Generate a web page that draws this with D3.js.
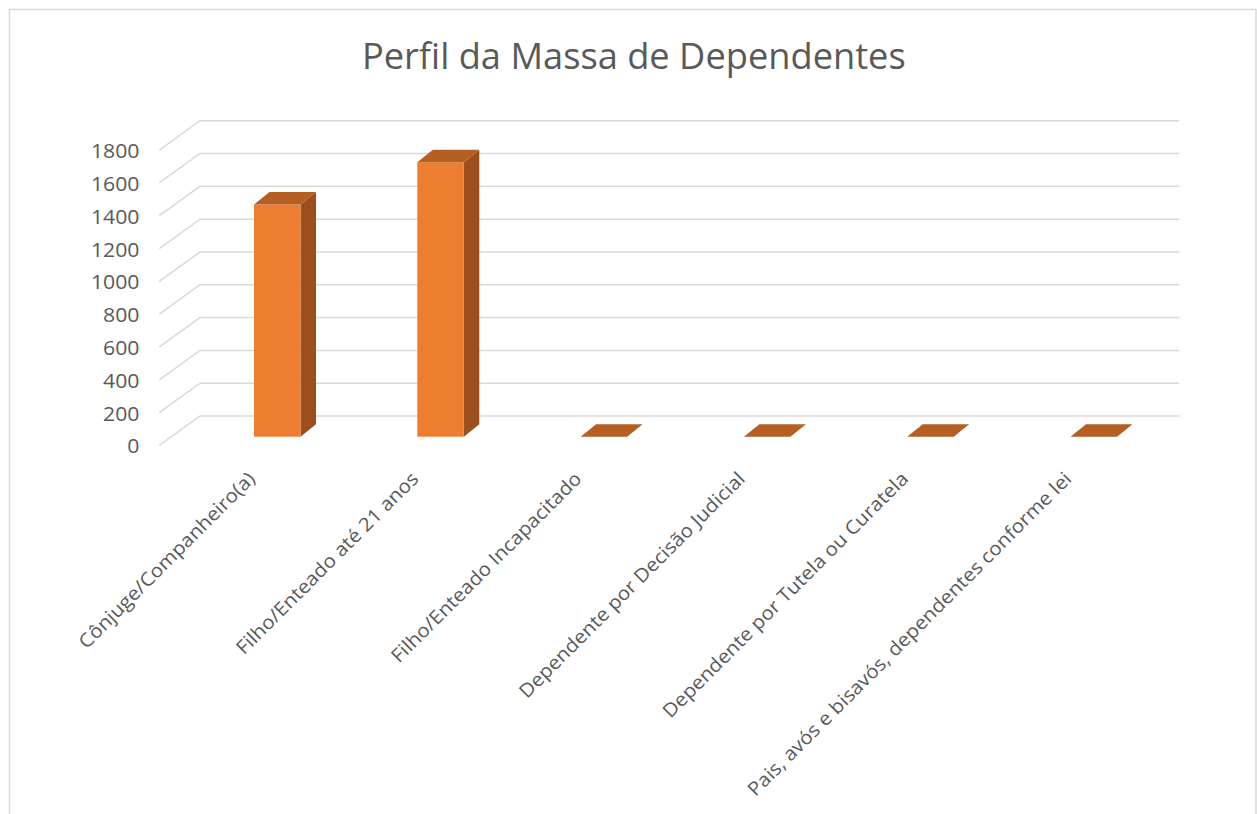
<!DOCTYPE html>
<html>
<head>
<meta charset="utf-8">
<script src="https://cdn.jsdelivr.net/npm/d3@7"></script>
<style>
  html, body { margin: 0; padding: 0; background: #ffffff; }
  svg { display: block; }
</style>
</head>
<body>
<svg id="chart" width="1257" height="814"></svg>
<script>
// ---- data ----
const title = "Perfil da Massa de Dependentes";
const categories = [
  "Cônjuge/Companheiro(a)",
  "Filho/Enteado até 21 anos",
  "Filho/Enteado Incapacitado",
  "Dependente por Decisão Judicial",
  "Dependente por Tutela ou Curatela",
  "Pais, avós e bisavós, dependentes conforme lei"
];
const values = [1415, 1673, 0, 0, 0, 0];
const yTicks = [0, 200, 400, 600, 800, 1000, 1200, 1400, 1600, 1800];

// ---- layout ----
const W = 1257, H = 814;
const svg = d3.select("#chart");
const font = "'Open Sans', 'Noto Sans', sans-serif";
const textColor = "#595959";
const gridColor = "#d9d9d9";

// frame
svg.append("rect")
  .attr("x", 9.5).attr("y", 9.5)
  .attr("width", 1246.5).attr("height", 830)
  .attr("fill", "#ffffff")
  .attr("stroke", "#d9d9d9").attr("stroke-width", 1.5);

// scales
const y = d3.scaleLinear().domain([0, 1800]).range([416, 120.7]);  // back wall
const x = d3.scaleBand().domain(categories)
  .range([195.6, 1175.4]).paddingInner(0.7153).paddingOuter(0.3577);

const wallX0 = 200, wallX1 = 1179.3;
const floorDX = -40.7, floorDY = 29.4;     // back -> front of floor
const barFrontDY = 20.7;                    // bar front face offset from back wall
const depthDX = 15.5, depthDY = -12.5;      // bar front -> bar back

// gridlines (back wall + side wall diagonal)
const grid = svg.append("g");
yTicks.forEach(t => {
  const yy = y(t);
  grid.append("path")
    .attr("d", `M${wallX1},${yy}L${wallX0},${yy}L${wallX0 + floorDX},${yy + floorDY}`)
    .attr("fill", "none").attr("stroke", gridColor).attr("stroke-width", 1.5);
});

// y tick labels
svg.append("g").selectAll("text").data(yTicks).join("text")
  .attr("transform", d => `translate(139.5,${y(d) + floorDY + 8}) scale(1.09,1)`)
  .attr("text-anchor", "end")
  .attr("font-family", font).attr("font-size", 19.5)
  .attr("fill", textColor)
  .text(d => d);

// bars (3D)
const bw = x.bandwidth();
const bars = svg.append("g");
categories.forEach((c, i) => {
  const v = values[i];
  const x0 = x(c), x1 = x0 + bw;
  const yb = y(0) + barFrontDY;
  const yt = y(v) + barFrontDY;
  const g = bars.append("g");
  if (yb - yt > 0.5) {
    // side face
    g.append("path")
      .attr("d", `M${x1},${yt}L${x1 + depthDX},${yt + depthDY}L${x1 + depthDX},${yb + depthDY}L${x1},${yb}Z`)
      .attr("fill", "#9c4f1d");
    // front face
    g.append("rect")
      .attr("x", x0).attr("y", yt).attr("width", bw).attr("height", yb - yt)
      .attr("fill", "#ed7d31");
  }
  // top face
  g.append("path")
    .attr("d", `M${x0},${yt}L${x1},${yt}L${x1 + depthDX},${yt + depthDY}L${x0 + depthDX},${yt + depthDY}Z`)
    .attr("fill", "#b65f23");
});

// category labels (rotated)
svg.append("g").selectAll("text").data(categories).join("text")
  .attr("transform", d => `translate(${x(d) + bw / 2 - 21},${480}) rotate(-45) scale(1.08,1)`)
  .attr("text-anchor", "end")
  .attr("font-family", font).attr("font-size", 19)
  .attr("fill", textColor)
  .text(d => d);

// title (fit to measured width)
const tt = svg.append("text")
  .attr("x", 0).attr("y", 0)
  .attr("text-anchor", "middle")
  .attr("font-family", font).attr("font-size", 36)
  .attr("fill", textColor)
  .text(title);
const tw = tt.node().getComputedTextLength();
const sx = 544 / tw;
tt.attr("transform", `translate(633.8,69) scale(${sx},1)`);
</script>
</body>
</html>
